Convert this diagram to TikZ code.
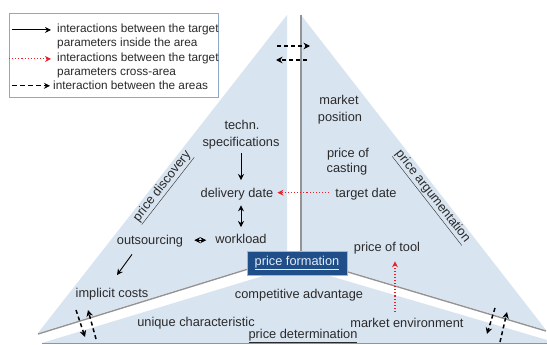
\documentclass[tikz,border=0pt]{standalone}
\usepackage{fontspec}
\setmainfont{Liberation Sans}
\usetikzlibrary{arrows.meta,calc}
\definecolor{areafill}{HTML}{D9E4F1}
\definecolor{shade}{HTML}{949494}
\definecolor{ink}{HTML}{2A2A2A}
\definecolor{boxblue}{HTML}{1F4E89}
\definecolor{boxframe}{HTML}{9DB6D6}
\definecolor{legframe}{HTML}{8FA8C8}
\definecolor{crossred}{HTML}{E8202A}
\definecolor{boxtext}{HTML}{E4ECF7}

\begin{document}
\begin{tikzpicture}[x=1pt,y=-1pt,
  lbl/.style={font=\fontsize{12.8}{15}\selectfont, text=ink, inner sep=0pt, anchor=base},
  heading/.style={font=\fontsize{12.8}{15}\selectfont, text=ink, inner sep=0pt, anchor=center},
  legtext/.style={font=\fontsize{11.8}{14}\selectfont, text=ink, inner sep=0pt, anchor=base west},
  shadowline/.style={draw=shade, line width=1.4pt},
  inarrow/.style={draw=black, line width=0.9pt, -{Stealth[length=6pt,width=6pt]}},
  inboth/.style={draw=black, line width=0.9pt, {Stealth[length=6pt,width=6pt]}-{Stealth[length=6pt,width=6pt]}},
  crossarrow/.style={draw=crossred, line width=1.1pt, dotted, -{Stealth[length=6pt,width=6pt,fill=crossred]}},
  areaarrow/.style={draw=black, line width=1.5pt, dash pattern=on 4pt off 3pt, -{Stealth[length=6.5pt,width=6.5pt]}},
  legarea/.style={draw=black, line width=1.2pt, dash pattern=on 5pt off 3pt, -{Stealth[length=6pt,width=6pt]}},
  formbox/.style={fill=boxblue, draw=boxframe, line width=0.6pt, minimum width=100pt, minimum height=24pt,
    inner sep=0pt, text=boxtext, font=\fontsize{12.8}{15}\selectfont}
]
\useasboundingbox (0,0) rectangle (547,345);
\fill[white] (0,0) rectangle (547,345);

% the three areas of the pyramid
\fill[areafill] (287,15) -- (287,256) -- (38,333) -- cycle;
\fill[areafill] (301,15) -- (301,257) -- (546,330) -- cycle;
\fill[areafill] (42,343) -- (296,266) -- (547,340) -- (547,343) -- cycle;

% shaded edges along the gaps
\draw[shadowline] (301,15) -- (301,257);
\draw[shadowline] (38,334) -- (287,257);
\draw[shadowline] (301,258) -- (546,331);
\draw[shadowline] (42,343.5) -- (547,343.5);

% legend
\draw[legframe, fill=white, line width=0.7pt] (9,13) rectangle (218,97);
\node[legtext] (l1) at (57,33) {interactions between the target};
\node[legtext] (l2) at (57,47) {parameters inside the area};
\node[legtext] (l3) at (57,62) {interactions between the target};
\node[legtext] (l4) at (57,76) {parameters cross-area};
\node[legtext] (l5) at (53,90) {interaction between the areas};
\draw[inarrow] ($(l1.west)+(-45,0)$) -- ($(l1.west)+(-6,0)$);
\draw[crossarrow] ($(l3.west)+(-48,0)$) -- ($(l3.west)+(-6,0)$);
\draw[legarea] ($(l5.west)+(-41,0)$) -- ($(l5.west)+(-3,0)$);

% price discovery
\node[heading, rotate=52] (disc) at (163,187) {\underline{price discovery}};
\node[lbl] (techn) at (242,129.5) {techn.};
\node[lbl] (spec) at (241,146.5) {specifications};
\node[lbl] (deliv) at (237,197.5) {delivery date};
\node[lbl] (work) at (241,243.5) {workload};
\node[lbl] (outs) at (150,244.5) {outsourcing};
\node[lbl] (impl) at (112,297.5) {implicit costs};

% price argumentation
\node[heading, rotate=-52] (argu) at (432,197) {\underline{price argumentation}};
\node[lbl] (mark) at (339,104.5) {market};
\node[lbl] (posi) at (340,121.5) {position};
\node[lbl] (pof) at (348,157.5) {price of};
\node[lbl] (cast) at (347,172.5) {casting};
\node[lbl] (target) at (366,197.5) {target date};
\node[lbl] (tool) at (387,251.5) {price of tool};

% price determination
\node[lbl] (comp) at (299,298.5) {competitive advantage};
\node[lbl] (uniq) at (196,326.5) {unique characteristic};
\node[lbl] (menv) at (407,327.5) {market environment};
\node[lbl] (det) at (303,338.5) {\underline{price determination}};

% centre
\node[formbox] (form) at (297,263) {\underline{price formation}};

% interactions inside the areas
\draw[inarrow] ($(spec.south)+(0,4)$) -- ($(spec.south |- deliv.north)+(0,-8)$);
\draw[inboth] ($(work.north |- deliv.south)+(0,5)$) -- ($(work.north)+(0,-7)$);
\draw[inboth] ($(outs.east)+(11,-1)$) -- ($(work.west |- outs.east)+(-9,-1)$);
\draw[inarrow] ($(outs.south)+(-18,7)$) -- ($(impl.north)+(5,-13)$);

% interactions across areas
\draw[crossarrow] ($(target.west)+(-6,-1.5)$) -- ($(deliv.east |- target.west)+(4,-1.5)$);
\draw[crossarrow] ($(menv.north)+(-12,-6)$) -- ($(tool.south)+(8,7)$);

% interactions between the areas
\coordinate (topA1) at (277,46);  \coordinate (topA2) at (310,46);
\coordinate (topB1) at (307,60);  \coordinate (topB2) at (276,60);
\coordinate (leftA1) at (76,310); \coordinate (leftA2) at (85,337);
\coordinate (leftB1) at (96,339); \coordinate (leftB2) at (88,310);
\coordinate (rightA1) at (495,308); \coordinate (rightA2) at (487,334);
\coordinate (rightB1) at (500,342); \coordinate (rightB2) at (507,312);
\draw[areaarrow] (topA1) -- (topA2);
\draw[areaarrow] (topB1) -- (topB2);
\draw[areaarrow] (leftA1) -- (leftA2);
\draw[areaarrow] (leftB1) -- (leftB2);
\draw[areaarrow] (rightA1) -- (rightA2);
\draw[areaarrow] (rightB1) -- (rightB2);
\end{tikzpicture}
\end{document}
